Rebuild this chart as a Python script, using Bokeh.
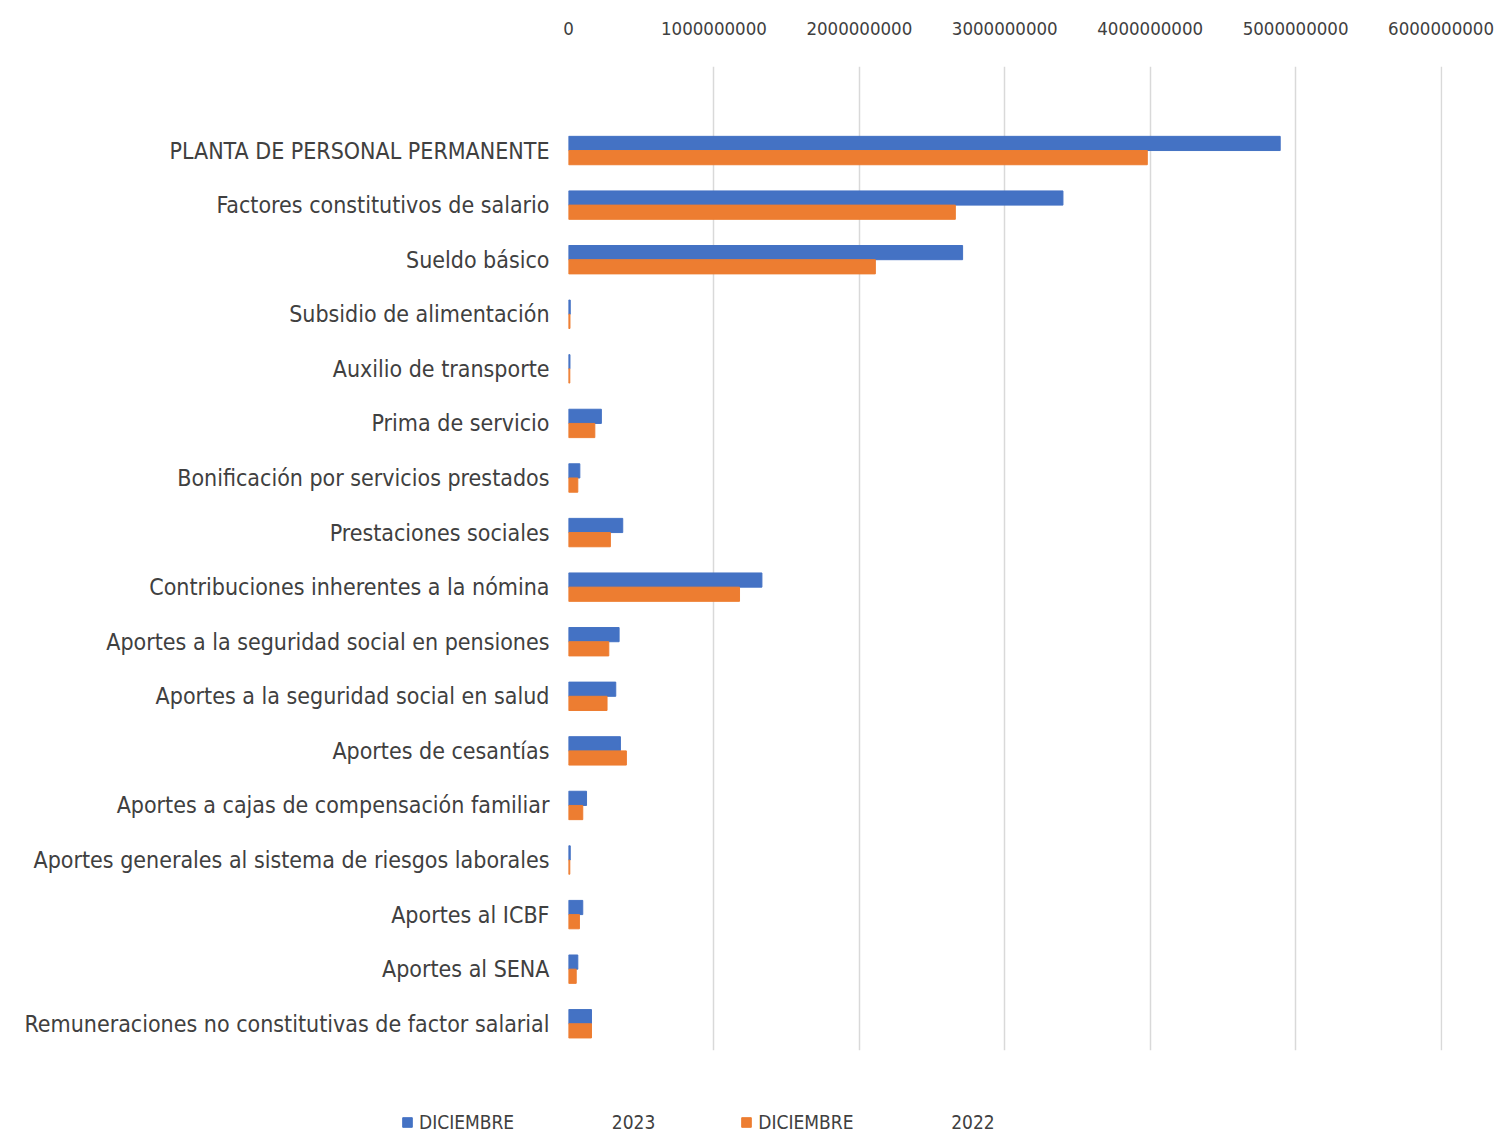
from bokeh.plotting import figure
from bokeh.layouts import column
from bokeh.models import (ColumnDataSource, Range1d, FixedTicker, BasicTickFormatter,
                          Legend, LegendItem)
from bokeh.embed import file_html
from bokeh.resources import INLINE

categories = [
    "PLANTA DE PERSONAL PERMANENTE",
    "Factores constitutivos de salario",
    "Sueldo básico",
    "Subsidio de alimentación",
    "Auxilio de transporte",
    "Prima de servicio",
    "Bonificación por servicios prestados",
    "Prestaciones sociales",
    "Contribuciones inherentes a la nómina",
    "Aportes a la seguridad social en pensiones",
    "Aportes a la seguridad social en salud",
    "Aportes de cesantías",
    "Aportes a cajas de compensación familiar",
    "Aportes generales al sistema de riesgos laborales",
    "Aportes al ICBF",
    "Aportes al SENA",
    "Remuneraciones no constitutivas de factor salarial",
]
dic_2023 = [4894e6, 3400e6, 2710e6, 12e6, 10e6, 226e6, 78e6, 373e6, 1330e6,
            348e6, 325e6, 357e6, 124e6, 12e6, 98e6, 64e6, 158e6]
dic_2022 = [3980e6, 2660e6, 2110e6, 10e6, 9e6, 181e6, 64e6, 288e6, 1176e6,
            277e6, 265e6, 398e6, 98e6, 9e6, 75e6, 53e6, 158e6]
x_ticks = [0, 1e9, 2e9, 3e9, 4e9, 5e9, 6e9]
legend_labels = ["DICIEMBRE" + "\u00a0" * 18 + "2023", "DICIEMBRE" + "\u00a0" * 18 + "2022"]

FONT = "'Liberation Sans Narrow', 'DejaVu Sans Condensed', 'Liberation Sans', sans-serif"
TXT = "#404040"
BLUE = "#4472C4"
ORANGE = "#ED7D31"

idx = list(range(len(categories)))
src = ColumnDataSource(dict(
    y23=[i - 0.13 for i in idx],
    y22=[i + 0.13 for i in idx],
    v23=dic_2023,
    v22=dic_2022,
))

p = figure(width=1498, height=1100, output_backend="svg", toolbar_location=None,
           x_range=Range1d(0, 6.01e9), y_range=Range1d(16.49, -1.54),
           x_axis_location="above",
           min_border_left=568, min_border_right=56, min_border_top=66, min_border_bottom=50)
p.outline_line_color = None
p.frame_align = False

r23 = p.hbar(y="y23", right="v23", left=0, height=0.26, source=src, color=BLUE)
r22 = p.hbar(y="y22", right="v22", left=0, height=0.26, source=src, color=ORANGE)

xa = p.xaxis[0]
xa.ticker = FixedTicker(ticks=x_ticks)
xa.formatter = BasicTickFormatter(use_scientific=False)
xa.axis_line_color = None
xa.major_tick_line_color = None
xa.minor_tick_line_color = None
xa.major_tick_out = 0
xa.minor_tick_out = 0
xa.major_label_standoff = 32
xa.major_label_text_font = FONT
xa.major_label_text_font_size = "18.5px"
xa.major_label_text_color = TXT

ya = p.yaxis[0]
ya.ticker = FixedTicker(ticks=idx)
ya.major_label_overrides = {i: c for i, c in zip(idx, categories)}
ya.axis_line_color = None
ya.major_tick_line_color = None
ya.minor_tick_line_color = None
ya.major_tick_out = 0
ya.minor_tick_out = 0
ya.major_label_standoff = 19
ya.major_label_text_font = FONT
ya.major_label_text_font_size = "23px"
ya.major_label_text_color = TXT

p.ygrid.grid_line_color = None
p.xgrid.ticker = FixedTicker(ticks=x_ticks)
p.xgrid.grid_line_color = "#d9d9d9"
p.xgrid.grid_line_width = 1.5

# legend strip below the chart (its bars fall outside its ranges; only the legend shows)
pl = figure(width=1498, height=34, output_backend="svg", toolbar_location=None,
            x_range=Range1d(0, 1), y_range=Range1d(100, 101),
            min_border_left=0, min_border_right=0, min_border_top=0, min_border_bottom=0)
pl.frame_align = False
pl.axis.visible = False
pl.grid.visible = False
pl.outline_line_color = None
k23 = pl.hbar(y="y23", right="v23", left=0, height=0.26, source=src, color=BLUE)
k22 = pl.hbar(y="y22", right="v22", left=0, height=0.26, source=src, color=ORANGE)
legend = Legend(items=[LegendItem(label=legend_labels[0], renderers=[k23]),
                       LegendItem(label=legend_labels[1], renderers=[k22])],
                orientation="horizontal", location=(401, 1),
                label_text_font=FONT, label_text_font_size="19px", label_text_color=TXT,
                glyph_width=12, glyph_height=12, spacing=85, padding=0, margin=0,
                label_standoff=6, border_line_color=None, background_fill_alpha=0)
pl.add_layout(legend, "center")

layout = column(p, pl, spacing=0)
open("out.html", "w").write(file_html(layout, INLINE))
